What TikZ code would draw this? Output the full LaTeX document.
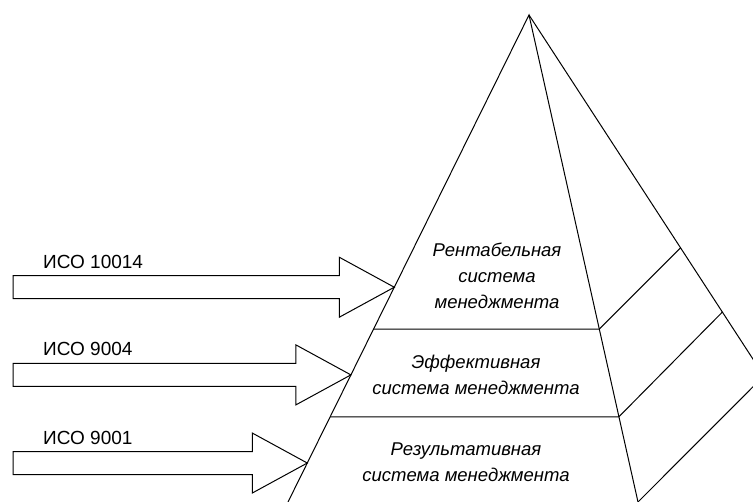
\documentclass[tikz,border=0pt]{standalone}
\usepackage{fontspec}
\setmainfont{Liberation Sans}
\usetikzlibrary{calc}

\begin{document}
\begin{tikzpicture}[x=1pt, y=-1pt,
  edge/.style={line width=1pt},
  blockarr/.style={line width=1pt, line join=miter},
  iso/.style={anchor=base west, inner sep=0pt, font=\fontsize{19}{22}\selectfont},
  level/.style={align=center, inner sep=0pt, font=\fontsize{18.5}{26}\selectfont\itshape},
]
\useasboundingbox (0,0) rectangle (753,502);
\clip (0,0) rectangle (753,502);
% pyramid
\coordinate (apex) at (529,15);
\coordinate (left) at (288,502);
\coordinate (front) at (638,502);
\coordinate (back) at (846,502);
\coordinate (start) at (13,0);
\draw[edge] (left) -- (apex) -- (front);
\draw[edge] (apex) -- (back);
\draw[edge] ($(apex)!0.645!(left)$) -- ($(apex)!0.645!(front)$) -- ($(apex)!0.478!(back)$);
\draw[edge] ($(apex)!0.825!(left)$) -- ($(apex)!0.825!(front)$) -- ($(apex)!0.61!(back)$);
\draw[edge] (front) -- ($(apex)!0.741!(back)$);
% levels
\node[level] (top) at (497,276) {Рентабельная\\система\\менеджмента};
\node[level] (mid) at (476,375) {Эффективная\\система менеджмента};
\node[level] (low) at (466,462) {Результативная\\система менеджмента};
% standards
\foreach \t/\n/\lab in {0.559/1/ИСО 10014, 0.739/2/ИСО 9004, 0.92/3/ИСО 9001} {
  \coordinate (tip\n) at ($(apex)!\t!(left)$);
  \draw[blockarr] (tip\n) -- ++(-55,-30) -- ++(0,18.5)
    -- ($(tip\n -| start)+(0,-11.5)$) -- ++(0,23)
    -- ($(tip\n)+(-55,11.5)$) -- ++(0,18.5) -- cycle;
  \node[iso] (lab\n) at ($(tip\n -| start)+(30,-19)$) {\lab};
}
\end{tikzpicture}
\end{document}
